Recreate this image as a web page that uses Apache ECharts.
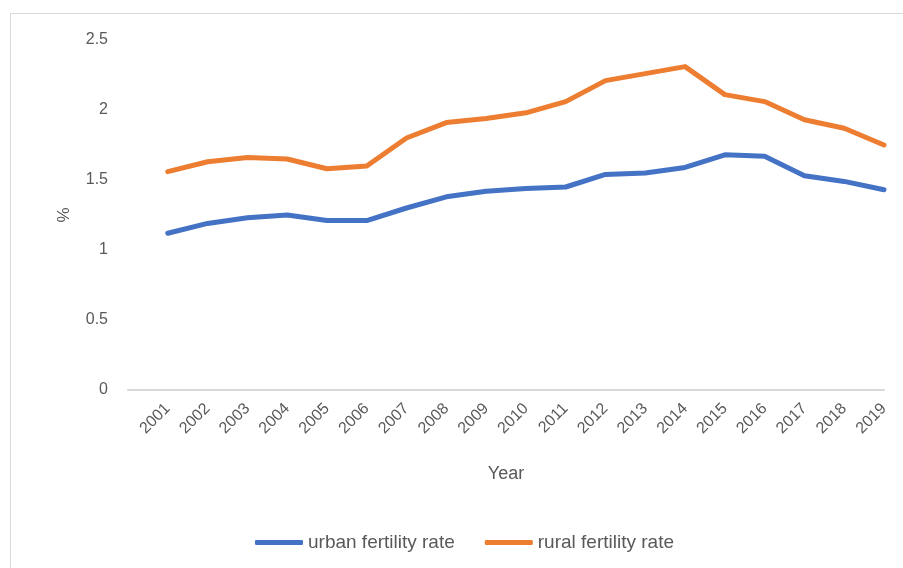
<!DOCTYPE html>
<html>
<head>
  <meta charset="utf-8">
  <script src="https://cdn.jsdelivr.net/npm/echarts@6/dist/echarts.min.js"></script>
  <style>
    body { margin: 0; background: #fff; }
    #main { width: 903px; height: 568px; }
  </style>
</head>
<body>
  <div id="main"></div>
  <script>
    // data
    var years = [2001, 2002, 2003, 2004, 2005, 2006, 2007, 2008, 2009, 2010,
                 2011, 2012, 2013, 2014, 2015, 2016, 2017, 2018, 2019];
    var urban = [1.12, 1.19, 1.23, 1.25, 1.21, 1.21, 1.30, 1.38, 1.42, 1.44,
                 1.45, 1.54, 1.55, 1.59, 1.68, 1.67, 1.53, 1.49, 1.43];
    var rural = [1.56, 1.63, 1.66, 1.65, 1.58, 1.60, 1.80, 1.91, 1.94, 1.98,
                 2.06, 2.21, 2.26, 2.31, 2.11, 2.06, 1.93, 1.87, 1.75];
    var seriesNames = ['urban fertility rate', 'rural fertility rate'];

    var font = '"Liberation Sans", sans-serif';
    var grey = '#595959';

    function pairs(vals) {
      return years.map(function (y, i) { return [y, vals[i]]; });
    }

    var chart = echarts.init(document.getElementById('main'));
    chart.setOption({
      animation: false,
      textStyle: { fontFamily: font },
      graphic: [{
        type: 'rect',
        shape: { x: 10.5, y: 13.5, width: 1000, height: 1000 },
        style: { fill: 'none', stroke: '#d9d9d9', lineWidth: 1 },
        silent: true
      }],
      grid: { left: 128, right: 19, top: 40, bottom: 178, containLabel: false },
      legend: {
        bottom: 11,
        left: 250,
        icon: 'roundRect',
        itemWidth: 48,
        itemHeight: 5,
        itemGap: 30,
        textStyle: { color: grey, fontSize: 19, fontFamily: font },
        data: seriesNames
      },
      xAxis: {
        type: 'value',
        min: 2000,
        max: 2019,
        interval: 1,
        name: 'Year',
        nameLocation: 'middle',
        nameGap: 75,
        nameTextStyle: { color: grey, fontSize: 18 },
        axisLine: { show: true, lineStyle: { color: '#d9d9d9', width: 2 } },
        axisTick: { show: false },
        splitLine: { show: false },
        axisLabel: {
          rotate: 45,
          margin: 16,
          color: grey,
          fontSize: 16,
          formatter: function (v) { return v === 2000 ? '' : String(v); }
        }
      },
      yAxis: {
        type: 'value',
        min: 0,
        max: 2.5,
        interval: 0.5,
        name: '%',
        nameLocation: 'middle',
        nameGap: 55,
        nameRotate: 90,
        nameTextStyle: { color: grey, fontSize: 17 },
        axisLine: { show: false },
        axisTick: { show: false },
        splitLine: { show: false },
        axisLabel: { color: grey, fontSize: 16, margin: 20 }
      },
      series: [
        {
          name: seriesNames[0],
          type: 'line',
          data: pairs(urban),
          symbol: 'none',
          color: '#4472C4',
          lineStyle: { width: 5, color: '#4472C4', cap: 'round', join: 'round' }
        },
        {
          name: seriesNames[1],
          type: 'line',
          data: pairs(rural),
          symbol: 'none',
          color: '#ED7D31',
          lineStyle: { width: 5, color: '#ED7D31', cap: 'round', join: 'round' }
        }
      ]
    });
  </script>
</body>
</html>
